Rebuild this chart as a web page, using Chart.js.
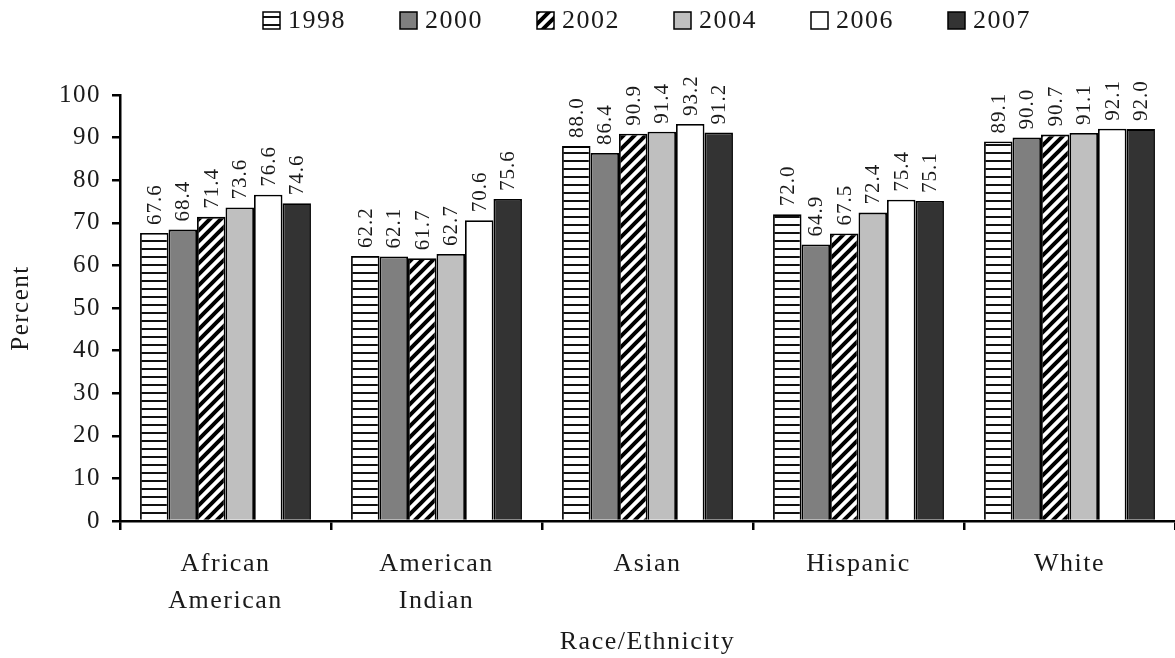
<!DOCTYPE html>
<html>
<head>
<meta charset="utf-8">
<script src="https://cdn.jsdelivr.net/npm/chart.js@4"></script>
<style>
  html, body { margin: 0; padding: 0; background: #fff; }
  #wrap { width: 1175px; height: 658px; }
</style>
</head>
<body>
<div id="wrap"><canvas id="chart"></canvas></div>
<script>
const categories = [['African', 'American'], ['American', 'Indian'], 'Asian', 'Hispanic', 'White'];
const years = ['1998', '2000', '2002', '2004', '2006', '2007'];
const v1998 = [67.6, 62.2, 88.0, 72.0, 89.1];
const v2000 = [68.4, 62.1, 86.4, 64.9, 90.0];
const v2002 = [71.4, 61.7, 90.9, 67.5, 90.7];
const v2004 = [73.6, 62.7, 91.4, 72.4, 91.1];
const v2006 = [76.6, 70.6, 93.2, 75.4, 92.1];
const v2007 = [74.6, 75.6, 91.2, 75.1, 92.0];
const yTicks = [0, 10, 20, 30, 40, 50, 60, 70, 80, 90, 100];

const FONT = "'Liberation Serif', 'DejaVu Serif', serif";
const TEXT = '#1a1a1a';

// fill patterns
function hStripes() {
  const c = document.createElement('canvas');
  c.width = 8; c.height = 8;
  const x = c.getContext('2d');
  x.fillStyle = '#fff'; x.fillRect(0, 0, 8, 8);
  x.fillStyle = '#111'; x.fillRect(0, 0, 8, 2);
  return x.createPattern(c, 'repeat');
}
function diagStripes() {
  const s = 11;
  const c = document.createElement('canvas');
  c.width = s; c.height = s;
  const x = c.getContext('2d');
  x.fillStyle = '#fff'; x.fillRect(0, 0, s, s);
  x.strokeStyle = '#000'; x.lineWidth = 4;
  x.beginPath();
  x.moveTo(-s, s * 2); x.lineTo(s * 2, -s);
  x.moveTo(-s, s); x.lineTo(s, -s);
  x.moveTo(0, s * 2); x.lineTo(s * 2, 0);
  x.stroke();
  return x.createPattern(c, 'repeat');
}

const fills = [hStripes(), '#7f7f7f', diagStripes(), '#bfbfbf', '#ffffff', '#333333'];
const series = [v1998, v2000, v2002, v2004, v2006, v2007];

// slightly spaced serif text, like the original
const spacing = {
  id: 'spacing',
  beforeUpdate(chart) { chart.ctx.letterSpacing = '1.5px'; },
  beforeDraw(chart) { chart.ctx.letterSpacing = '1.5px'; },
};

const barLabels = {
  id: 'barLabels',
  afterDatasetsDraw(chart) {
    const ctx = chart.ctx;
    ctx.save();
    ctx.letterSpacing = '1px';
    ctx.font = '21px ' + FONT;
    ctx.fillStyle = TEXT;
    ctx.textAlign = 'left';
    ctx.textBaseline = 'middle';
    chart.data.datasets.forEach((ds, i) => {
      chart.getDatasetMeta(i).data.forEach((bar, j) => {
        ctx.save();
        ctx.translate(bar.x, bar.y - 8);
        ctx.rotate(-Math.PI / 2);
        ctx.fillText(ds.data[j].toFixed(1), 0, 1);
        ctx.restore();
      });
    });
    ctx.restore();
  }
};

// legend drawn across the top, centred over the plot
const topLegend = {
  id: 'topLegend',
  afterDraw(chart) {
    const ctx = chart.ctx;
    ctx.save();
    ctx.letterSpacing = '1.5px';
    ctx.font = '26px ' + FONT;
    ctx.textAlign = 'left';
    ctx.textBaseline = 'middle';
    chart.data.datasets.forEach((ds, i) => {
      const x = 263 + i * 137;
      const y = 12;
      ctx.fillStyle = ds.backgroundColor;
      ctx.fillRect(x, y, 17, 17);
      ctx.strokeStyle = '#000';
      ctx.lineWidth = 1.5;
      ctx.strokeRect(x, y, 17, 17);
      ctx.fillStyle = TEXT;
      ctx.fillText(ds.label, x + 25, y + 9);
    });
    ctx.restore();
  }
};

new Chart(document.getElementById('chart'), {
  type: 'bar',
  data: {
    labels: categories,
    datasets: years.map((y, i) => ({
      label: y,
      data: series[i],
      backgroundColor: fills[i],
      borderColor: '#000',
      borderWidth: 1.8,
      categoryPercentage: 0.81,
      barPercentage: 1.0,
    })),
  },
  options: {
    responsive: true,
    maintainAspectRatio: false,
    animation: false,
    layout: { padding: { top: 95, right: 0, left: 0, bottom: 0 } },
    plugins: {
      legend: { display: false },
      tooltip: { enabled: false },
    },
    scales: {
      x: {
        offset: true,
        grid: {
          offset: true,
          drawOnChartArea: false,
          color: '#000',
          lineWidth: 2.5,
          tickLength: 9,
        },
        border: { color: '#000', width: 2.5 },
        ticks: {
          font: { family: FONT, size: 26, lineHeight: 1.45 },
          color: TEXT,
          padding: 15,
          maxRotation: 0,
        },
        title: {
          display: true,
          text: 'Race/Ethnicity',
          font: { family: FONT, size: 26 },
          color: TEXT,
          padding: { top: 8, bottom: 0 },
        },
        afterFit(scale) { scale.height = 137; },
      },
      y: {
        min: 0,
        max: 100,
        afterBuildTicks(scale) { scale.ticks = yTicks.map(v => ({ value: v })); },
        grid: {
          drawOnChartArea: false,
          color: '#000',
          lineWidth: 2.5,
          tickLength: 8,
        },
        border: { color: '#000', width: 2.5 },
        ticks: {
          font: { family: FONT, size: 25 },
          color: TEXT,
          padding: 11,
        },
        title: {
          display: true,
          text: 'Percent',
          font: { family: FONT, size: 25 },
          color: TEXT,
          padding: { top: 6, bottom: 0 },
        },
        afterFit(scale) { scale.width = 120; },
      },
    },
  },
  plugins: [spacing, barLabels, topLegend],
});
</script>
</body>
</html>
